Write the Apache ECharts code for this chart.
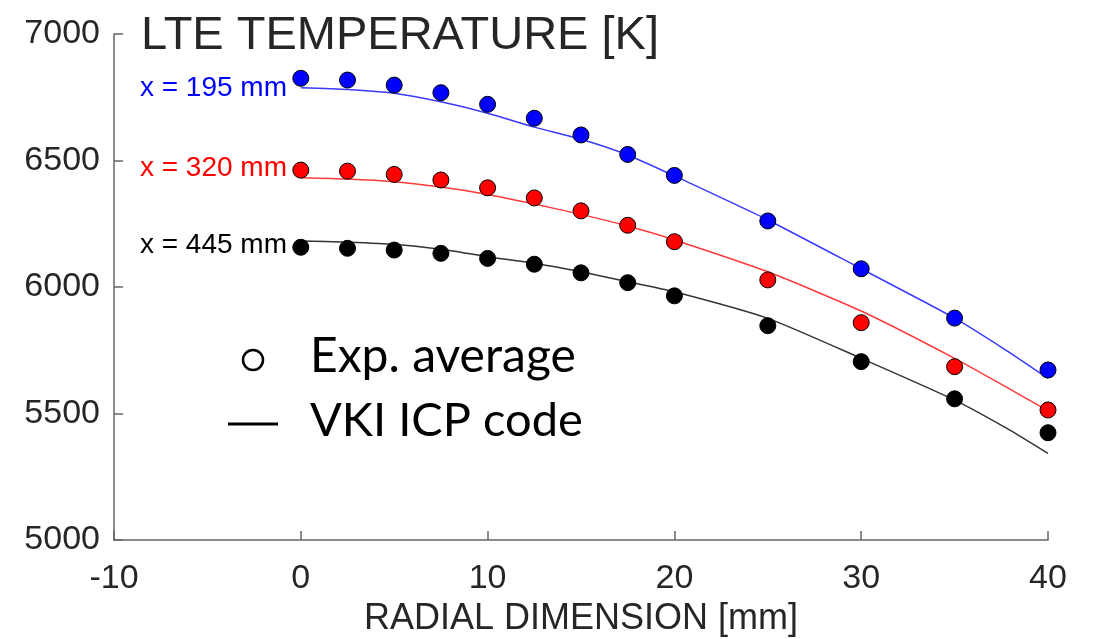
<!DOCTYPE html>
<html>
<head>
<meta charset="utf-8">
<script src="https://cdn.jsdelivr.net/npm/echarts@6/dist/echarts.min.js"></script>
<style>
  html, body { margin: 0; padding: 0; background: #fff; }
  #main { width: 1094px; height: 639px; }
</style>
</head>
<body>
<div id="main"></div>
<script>
// 径向位置 (mm)
const radial = [0, 2.5, 5, 7.5, 10, 12.5, 15, 17.5, 20, 25, 30, 35, 40];
// 实验平均值
const exp195 = [6825, 6818, 6798, 6768, 6722, 6667, 6601, 6524, 6441, 6261, 6072, 5877, 5672];
const exp320 = [6462, 6458, 6445, 6423, 6392, 6352, 6301, 6244, 6179, 6028, 5859, 5685, 5514];
const exp445 = [6157, 6153, 6146, 6133, 6113, 6090, 6056, 6017, 5965, 5847, 5705, 5558, 5424];
// VKI ICP code 计算结果
const codeX = [0, 2.5, 5, 7.5, 10, 12.5, 15, 17.5, 20, 25, 30, 35, 37.8, 40];
const code195 = [6788, 6781, 6766, 6732, 6687, 6632, 6584, 6522, 6439, 6265, 6072, 5877, 5748, 5639];
const code320 = [6432, 6427, 6416, 6395, 6366, 6328, 6287, 6241, 6186, 6060, 5905, 5718, 5603, 5511];
const code445 = [6182, 6177, 6169, 6149, 6120, 6094, 6060, 6021, 5981, 5876, 5718, 5553, 5441, 5342];
const xTicks = [-10, 0, 10, 20, 30, 40];
const yTicks = [5000, 5500, 6000, 6500, 7000];

const pairs = (xs, ys) => xs.map((x, i) => [x, ys[i]]);

const font = 'Liberation Sans, Arial, sans-serif';
const axisColor = '#666';
const textColor = '#262626';

function lineSeries(name, data, color) {
  return {
    name: name,
    type: 'line',
    data: pairs(codeX, data),
    smooth: 0.2,
    symbol: 'none',
    lineStyle: { color: color, width: 1.5 },
    z: 2
  };
}

function dotSeries(name, data, color, border) {
  return {
    name: name,
    type: 'scatter',
    data: pairs(radial, data),
    symbolSize: 16,
    itemStyle: { color: color, borderColor: border, borderWidth: 1, opacity: 1 },
    z: 3
  };
}

const chart = echarts.init(document.getElementById('main'), null, { renderer: 'canvas' });

chart.setOption({
  animation: false,
  grid: { left: 114, right: 46, top: 34, bottom: 99, containLabel: false, outerBoundsMode: 'none' },
  xAxis: {
    type: 'value',
    min: xTicks[0],
    max: xTicks[xTicks.length - 1],
    interval: 10,
    name: 'RADIAL DIMENSION [mm]',
    nameLocation: 'middle',
    nameGap: 58,
    nameTextStyle: { fontSize: 36, color: textColor, fontFamily: font },
    axisLine: { show: true, onZero: false, lineStyle: { color: axisColor, width: 1.5 } },
    axisTick: { show: true, inside: true, length: 9, lineStyle: { color: axisColor, width: 1.5 } },
    axisLabel: { fontSize: 34, color: textColor, fontFamily: font, margin: 22 },
    splitLine: { show: false }
  },
  yAxis: {
    type: 'value',
    min: yTicks[0],
    max: yTicks[yTicks.length - 1],
    interval: 500,
    axisLine: { show: true, onZero: false, lineStyle: { color: axisColor, width: 1.5 } },
    axisTick: { show: true, inside: true, length: 9, lineStyle: { color: axisColor, width: 1.5 } },
    axisLabel: { fontSize: 34, color: textColor, fontFamily: font, margin: 14, formatter: v => String(v) },
    splitLine: { show: false }
  },
  title: {
    text: 'LTE TEMPERATURE [K]',
    left: 136,
    top: 8,
    textStyle: { fontSize: 47, fontWeight: 'normal', color: textColor, fontFamily: font }
  },
  graphic: [
    // 各位置标注
    { type: 'text', right: 1094 - 287, top: 74, style: { text: 'x = 195 mm', fontSize: 28, fill: '#0000ff', fontFamily: font } },
    { type: 'text', right: 1094 - 287, top: 154, style: { text: 'x = 320 mm', fontSize: 28, fill: '#ff0000', fontFamily: font } },
    { type: 'text', right: 1094 - 287, top: 231, style: { text: 'x = 445 mm', fontSize: 28, fill: '#000000', fontFamily: font } },
    // 图例
    { type: 'circle', shape: { cx: 253, cy: 360, r: 10 }, style: { fill: '#fff', stroke: '#000', lineWidth: 2.5 } },
    { type: 'line', shape: { x1: 228, y1: 424, x2: 278, y2: 424 }, style: { stroke: '#000', lineWidth: 3 } },
    { type: 'text', left: 310, top: 333, style: { text: 'Exp. average', fontSize: 48, fill: '#000', fontFamily: 'Lato, sans-serif' } },
    { type: 'text', left: 310, top: 397, style: { text: 'VKI ICP code', fontSize: 47, fill: '#000', fontFamily: 'Lato, sans-serif' } }
  ],
  series: [
    lineSeries('code195', code195, '#3a3aff'),
    lineSeries('code320', code320, '#ff3a3a'),
    lineSeries('code445', code445, '#333333'),
    dotSeries('exp195', exp195, '#0000ff', '#000'),
    dotSeries('exp320', exp320, '#ff0000', '#000'),
    dotSeries('exp445', exp445, '#000000', '#000')
  ]
});
</script>
</body>
</html>
